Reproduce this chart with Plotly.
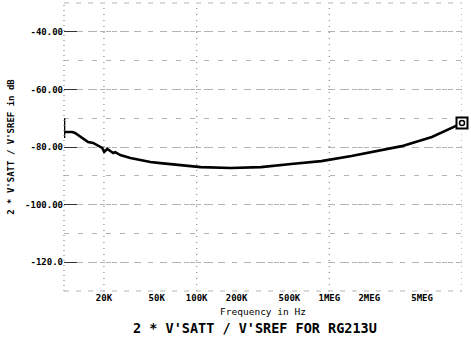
import plotly.graph_objects as go

# Data
freq_hz = [10000, 10000, 10000, 10355, 11498, 12115, 13687, 15199, 16586, 17783,
           19408, 20100, 21180, 22320, 23520, 24360, 26560, 31620, 37650, 44830,
           53370, 75650, 107300, 181000, 305300, 515000, 869700, 1468000, 2478000,
           3513000, 5928000, 10000000]
ratio_db = [-70.0, -76.9, -74.8, -74.8, -74.8, -75.1, -76.9, -78.3, -78.6, -79.3,
            -80.3, -81.7, -80.7, -81.4, -82.1, -81.8, -82.8, -83.8, -84.5, -85.2,
            -85.6, -86.3, -87.0, -87.3, -87.0, -85.9, -84.9, -83.1, -81.0,
            -79.7, -76.5, -71.7]

x_tick_vals = [20000, 50000, 100000, 200000, 500000, 1000000, 2000000, 5000000]
x_tick_text = ["20K", "50K", "100K", "200K", "500K", "1MEG", "2MEG", "5MEG"]
y_tick_vals = [-120, -100, -80, -60, -40]
y_tick_text = ["-120.0", "-100.00", "-80.00", "-60.00", "-40.00"]
x_grid_vals = [20000, 100000, 1000000, 10000000]

FONT = "DejaVu Sans Mono"
GRID = "#b4b4b4"

fig = go.Figure()

# vertical dotted grid lines
for gx in x_grid_vals:
    fig.add_trace(go.Scatter(x=[gx, gx], y=[-130, -30], mode="lines",
                             line=dict(color="#8a8a8a", width=1.2, dash="1px,5px"),
                             hoverinfo="skip", showlegend=False))

fig.add_trace(go.Scatter(x=freq_hz, y=ratio_db, mode="lines",
                         line=dict(color="black", width=2.6),
                         showlegend=False, cliponaxis=False))
fig.add_trace(go.Scatter(x=[freq_hz[-1]], y=[ratio_db[-1]], mode="markers",
                         marker=dict(symbol="square", size=11, color="white",
                                     line=dict(width=2, color="black")),
                         showlegend=False, cliponaxis=False))
fig.add_trace(go.Scatter(x=[freq_hz[-1]], y=[ratio_db[-1]], mode="markers",
                         marker=dict(symbol="circle", size=5, color="white",
                                     line=dict(width=1.5, color="black")),
                         showlegend=False, cliponaxis=False))

fig.update_layout(
    width=471, height=342,
    margin=dict(l=64, r=9, t=3, b=51, autoexpand=False),
    paper_bgcolor="white", plot_bgcolor="white",
    font=dict(family=FONT, size=9, color="black"),
    xaxis=dict(type="log", range=[4, 7], tickvals=x_tick_vals, ticktext=x_tick_text,
               showgrid=False, zeroline=False, showline=False, ticks="",
               tickfont=dict(family=FONT, size=9, weight="bold"),
               title=dict(text="Frequency in Hz", standoff=6,
                          font=dict(family=FONT, size=9.5))),
    yaxis=dict(range=[-130, -30], tickvals=y_tick_vals, ticktext=y_tick_text,
               showgrid=True, gridcolor=GRID, griddash="5px,7px", gridwidth=1,
               zeroline=False, showline=False,
               ticks="inside", ticklen=13, tickcolor="#333333", tickwidth=1,
               tickfont=dict(family=FONT, size=9, weight="bold"),
               minor=dict(dtick=10, showgrid=True, gridcolor=GRID,
                          griddash="5px,9px", gridwidth=1, ticks=""),
               title=dict(text="2 * V'SATT / V'SREF in dB", standoff=8,
                          font=dict(family=FONT, size=9, weight="bold"))),
    annotations=[
        dict(text="<b>2 * V'SATT / V'SREF FOR RG213U</b>", xref="paper", yref="paper",
             x=0.48, y=-0.128, xanchor="center", yanchor="middle", showarrow=False,
             font=dict(family=FONT, size=13.5, color="black")),
    ],
    shapes=[
        dict(type="line", xref="paper", yref="paper", x0=0, x1=0, y0=0, y1=1,
             line=dict(color="#8a8a8a", width=1.2, dash="1px,4px")),
        dict(type="line", xref="paper", yref="paper", x0=0, x1=1, y0=0, y1=0,
             line=dict(color=GRID, width=1, dash="5px,7px")),
        dict(type="line", xref="paper", yref="paper", x0=0, x1=1, y0=1, y1=1,
             line=dict(color=GRID, width=1, dash="5px,7px")),
    ],
)

fig.write_html("out.html", config={"displayModeBar": False},
               post_script="document.body.style.margin='0';document.body.style.overflow='hidden';")
